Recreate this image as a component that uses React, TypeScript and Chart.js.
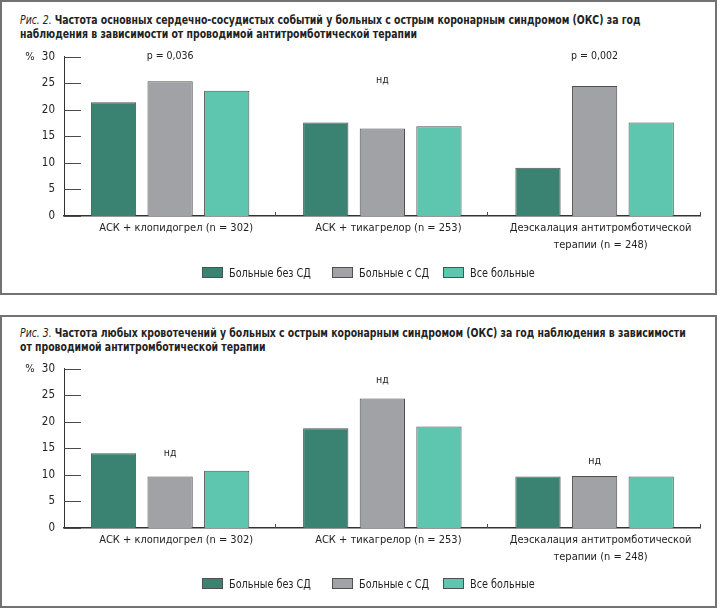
import React, { useEffect, useRef } from "react";
import { Chart, registerables } from "chart.js";

Chart.register(...registerables);

const FONT = "'DejaVu Sans Condensed', 'Liberation Sans', sans-serif";

const categories = [
  ["АСК + клопидогрел (n = 302)"],
  ["АСК + тикагрелор (n = 253)"],
  ["Деэскалация антитромботической", "терапии (n = 248)"],
];
const seriesLabels = ["Больные без СД", "Больные с СД", "Все больные"];
const seriesColors = ["#3a8373", "#a1a2a6", "#5ec6ae"];
const yTickValues = [0, 5, 10, 15, 20, 25, 30];
const yUnit = "%";

// Рис. 2 — сердечно-сосудистые события, %
const fig2NoDiabetes = [21.4, 17.6, 9.1];
const fig2Diabetes = [25.4, 16.5, 24.5];
const fig2All = [23.6, 16.9, 17.6];
const fig2Notes = ["p = 0,036", "нд", "p = 0,002"];
const fig2NoteLevels = [30, 25.6, 30];

// Рис. 3 — кровотечения, %
const fig3NoDiabetes = [14.1, 18.8, 9.7];
const fig3Diabetes = [9.7, 24.4, 9.8];
const fig3All = [10.8, 19.1, 9.7];
const fig3Notes = ["нд", "нд", "нд"];
const fig3NoteLevels = [14.0, 27.9, 12.5];

const decorPlugin = {
  id: "decor",
  afterDatasetsDraw(chart: any, _args: any, opts: any) {
    const { ctx, chartArea } = chart;
    const x = chart.scales.x;
    const y = chart.scales.y;
    ctx.save();
    // inner y ticks
    ctx.strokeStyle = "#4a4a4a";
    ctx.lineWidth = 1;
    yTickValues.forEach((v) => {
      const py = Math.round(y.getPixelForValue(v)) + 0.5;
      ctx.beginPath();
      ctx.moveTo(chartArea.left, py);
      ctx.lineTo(chartArea.left + 17, py);
      ctx.stroke();
    });
    // category boundary ticks on x axis
    const n = chart.data.labels.length;
    const half = (x.getPixelForValue(1) - x.getPixelForValue(0)) / 2;
    for (let i = 0; i < n; i++) {
      const px = Math.round(x.getPixelForValue(i) + half) - 0.5;
      ctx.beginPath();
      ctx.moveTo(px, chartArea.bottom);
      ctx.lineTo(px, chartArea.bottom - 4);
      ctx.stroke();
    }
    ctx.fillStyle = "#222";
    ctx.textBaseline = "middle";
    // unit label
    ctx.font = `11px ${FONT}`;
    ctx.textAlign = "center";
    ctx.fillText(yUnit, 30, y.getPixelForValue(y.max));
    // notes
    ctx.font = `10.5px ${FONT}`;
    (opts.notes || []).forEach((t: string, i: number) => {
      ctx.fillText(t, x.getPixelForValue(i), y.getPixelForValue(opts.levels[i]));
    });
    ctx.restore();
  },
};

function BarPanel(props: { a: number[]; b: number[]; c: number[]; notes: string[]; levels: number[] }) {
  const ref = useRef<HTMLCanvasElement | null>(null);
  useEffect(() => {
    if (!ref.current) return;
    const series = [props.a, props.b, props.c];
    const chart = new Chart(ref.current, {
      type: "bar",
      data: {
        labels: categories,
        datasets: series.map((d, i) => ({
          label: seriesLabels[i],
          data: d,
          backgroundColor: seriesColors[i],
          borderColor: "#505050",
          borderWidth: 1,
          barPercentage: 0.8,
          categoryPercentage: 0.8,
        })),
      },
      options: {
        responsive: false,
        animation: false,
        layout: { padding: { top: 16.7, right: 19.3, bottom: 0, left: 0 } },
        plugins: {
          legend: { display: false },
          tooltip: { enabled: false },
          decor: { notes: props.notes, levels: props.levels },
        } as any,
        scales: {
          x: {
            grid: { display: false, drawTicks: false },
            border: { display: true, color: "#333", width: 1.5 },
            ticks: {
              color: "#222",
              font: { family: FONT, size: 11, lineHeight: 1.5 },
              padding: 4,
              maxRotation: 0,
              autoSkip: false,
              labelOffset: 6,
            },
            afterFit: (s: any) => {
              s.height = 74;
            },
          },
          y: {
            min: 0,
            max: 30,
            grid: { display: false, drawTicks: false },
            border: { display: true, color: "#333", width: 1 },
            ticks: {
              stepSize: 5,
              color: "#222",
              font: { family: FONT, size: 11.5 },
              padding: 9,
            },
            afterFit: (s: any) => {
              s.width = 64;
            },
          },
        },
      },
      plugins: [decorPlugin],
    } as any);
    return () => chart.destroy();
  }, []);
  return <canvas ref={ref} width={720} height={250} style={{ width: 720, height: 250, display: "block" }} />;
}

const legendBoxX = [202, 332, 443];

function Legend(props: { top: number }) {
  return (
    <>
      {seriesLabels.map((l, i) => (
        <div key={l} style={{ position: "absolute", left: legendBoxX[i], top: props.top, height: 14, display: "flex", alignItems: "center" }}>
          <div style={{ width: 19, height: 9, background: seriesColors[i], border: "1px solid #505050", marginRight: 6, flex: "none" }} />
          <span style={{ display: "inline-block", fontSize: 12.5, color: "#222", whiteSpace: "nowrap", transform: "scaleX(0.86)", transformOrigin: "0 50%" }}>{l}</span>
        </div>
      ))}
    </>
  );
}

export default function App() {
  const box: React.CSSProperties = { position: "absolute", left: 0, width: 713, border: "2px solid #727272", boxSizing: "content-box" };
  const title: React.CSSProperties = {
    position: "absolute",
    left: 20,
    fontSize: 12.5,
    lineHeight: "14px",
    color: "#222",
    whiteSpace: "nowrap",
    transform: "scaleX(0.83)",
    transformOrigin: "0 0",
  };
  return (
    <div style={{ position: "absolute", left: 0, top: 0, width: 720, height: 610, background: "#fff", fontFamily: FONT, overflow: "hidden" }}>
      <div style={{ ...box, top: 0, height: 291 }} />
      <div style={{ ...box, top: 315, height: 289 }} />

      <div style={{ ...title, top: 13 }}>
        <i>Рис. 2.</i> <b>Частота основных сердечно-сосудистых событий у больных с острым коронарным синдромом (ОКС) за год</b>
        <br />
        <b>наблюдения в зависимости от проводимой антитромботической терапии</b>
      </div>
      <div style={{ position: "absolute", left: 0, top: 40 }}>
        <BarPanel a={fig2NoDiabetes} b={fig2Diabetes} c={fig2All} notes={fig2Notes} levels={fig2NoteLevels} />
      </div>
      <Legend top={265.7} />

      <div style={{ ...title, top: 326 }}>
        <i>Рис. 3.</i> <b>Частота любых кровотечений у больных с острым коронарным синдромом (ОКС) за год наблюдения в зависимости</b>
        <br />
        <b>от проводимой антитромботической терапии</b>
      </div>
      <div style={{ position: "absolute", left: 0, top: 352.3 }}>
        <BarPanel a={fig3NoDiabetes} b={fig3Diabetes} c={fig3All} notes={fig3Notes} levels={fig3NoteLevels} />
      </div>
      <Legend top={576} />
    </div>
  );
}
